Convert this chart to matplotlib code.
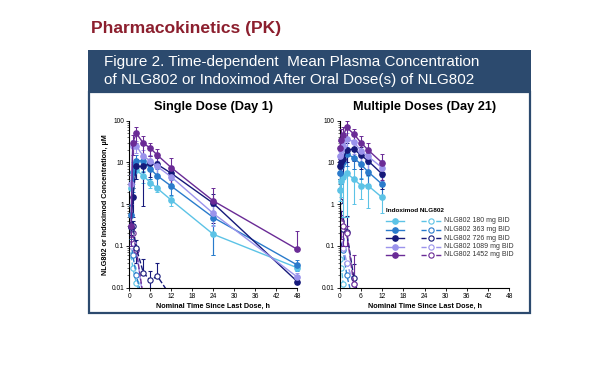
import numpy as np
import matplotlib
matplotlib.use("Agg")
import matplotlib.pyplot as plt
from matplotlib.lines import Line2D
from matplotlib.patches import Rectangle
from matplotlib.ticker import LogLocator, FixedLocator, NullFormatter

plt.rcParams['font.family'] = ['Liberation Sans', 'DejaVu Sans']

nan = np.nan
doses = ["180", "363", "726", "1089", "1452"]
labels = ["NLG802 180 mg BID", "NLG802 363 mg BID", "NLG802 726 mg BID",
          "NLG802 1089 mg BID", "NLG802 1452 mg BID"]
colors = ["#5cc3e6", "#2a7bcc", "#16197a", "#9b93ec", "#6a2b96"]

# ---- Single dose (Day 1) ----
t_sd = [0.5, 1, 2, 4, 6, 8, 12, 24, 48]
ind_sd_180 = [2.4, 6.0, 6.5, 4.8, 3.3, 2.4, 1.25, 0.19, 0.03]
ind_sd_363 = [0.55, 6.0, 11.0, 11.0, 7.0, 4.8, 2.7, 0.48, 0.035]
ind_sd_726 = [0.28, 1.5, 8.0, 8.0, 9.5, 9.0, 5.5, 1.05, 0.014]
ind_sd_1089 = [3.0, 25.0, 25.0, 14.0, 11.0, 8.0, 4.5, 0.6, 0.018]
ind_sd_1452 = [0.3, 30.0, 50.0, 29.0, 22.0, 15.0, 7.5, 1.2, 0.083]
sd_sd_180 = [1.5, 3.0, 2.5, 1.6, 0.8, 0.4, 0.35, 0.13, 0.0]
sd_sd_363 = [0.4, 4.0, 4.5, 5.0, 3.0, 2.0, 1.0, 0.42, 0.01]
sd_sd_726 = [0.1, 1.0, 4.0, 7.1, 5.0, 4.0, 2.5, 0.7, 0.0]
sd_sd_1089 = [2.0, 10.0, 8.0, 6.0, 4.0, 3.0, 2.0, 0.3, 0.005]
sd_sd_1452 = [0.2, 15.0, 20.0, 14.0, 8.0, 6.0, 5.0, 1.3, 0.14]

t_nsd = [0.5, 1, 2, 4, 6, 8, 12]
nlg_sd_180 = [0.06, 0.03, 0.013, 0.004, nan, nan, nan]
nlg_sd_363 = [0.12, 0.06, 0.02, 0.004, nan, nan, nan]
nlg_sd_726 = [0.25, 0.3, 0.09, 0.023, 0.015, 0.019, 0.006]
nlg_sd_1089 = [0.1, 0.12, 0.08, 0.005, nan, nan, nan]
nlg_sd_1452 = [0.15, 0.2, 0.08, 0.006, nan, nan, nan]
nsd_sd_726 = [0.1, 0.1, 0.05, 0.025, 0.01, 0.02, 0.0]

# ---- Multiple doses (Day 21) ----
t_md = [0, 0.5, 1, 2, 4, 6, 8, 12]
ind_md_180 = [2.2, 3.5, 4.5, 5.5, 4.0, 2.8, 2.8, 1.45]
ind_md_363 = [5.5, 8.0, 10.0, 16.0, 13.0, 9.0, 6.0, 3.0]
ind_md_726 = [8.0, 10.0, 12.0, 20.0, 21.0, 15.0, 11.0, 5.3]
ind_md_1089 = [14.0, 20.0, 25.0, 37.0, 31.0, 19.0, 14.0, 7.5]
ind_md_1452 = [22.0, 35.0, 45.0, 69.0, 48.0, 30.0, 20.0, 9.8]
sd_md_180 = [1.0, 2.0, 4.0, 5.0, 3.0, 1.5, 2.0, 0.85]
sd_md_363 = [3.0, 5.0, 6.0, 8.0, 6.0, 5.0, 3.0, 1.5]
sd_md_726 = [4.0, 6.0, 8.0, 10.0, 10.0, 8.0, 6.0, 3.0]
sd_md_1089 = [8.0, 10.0, 12.0, 15.0, 15.0, 10.0, 8.0, 4.0]
sd_md_1452 = [10.0, 30.0, 25.0, 30.0, 15.0, 12.0, 10.0, 6.0]

nlg_md_180 = [0.05, 0.03, 0.012, 0.005, nan, nan, nan, nan]
nlg_md_363 = [0.3, 0.15, 0.08, 0.02, 0.004, nan, nan, nan]
nlg_md_726 = [1.2, 0.4, 0.25, 0.21, 0.017, 0.004, nan, nan]
nlg_md_1089 = [0.3, 0.15, 0.09, 0.04, 0.012, 0.004, nan, nan]
nlg_md_1452 = [0.4, 0.35, 0.3, 0.2, 0.012, 0.005, nan, nan]
nsd_md_726 = [0.8, 0.3, 0.25, 0.3, 0.02, 0.0, 0.0, 0.0]
nsd_md_1452 = [0.3, 0.2, 0.2, 0.1, 0.05, 0.0, 0.0, 0.0]

xticks = [0, 6, 12, 18, 24, 30, 36, 42, 48]
yticks = [0.01, 0.1, 1, 10, 100]
ytick_labels = ["0.01", "0.1", "1", "10", "100"]

fig = plt.figure(figsize=(6.0, 3.83), dpi=100)
W, H = 600, 383

def fx(px): return px / W
def fy(py): return 1 - py / H

# Title
fig.text(fx(91), fy(29), "Pharmacokinetics (PK)", color="#8c1f2e", fontsize=12.6,
         fontweight="bold", va="center", ha="left")
# Header box
navy = "#2c4a6e"
fig.add_artist(Rectangle((fx(88), fy(92)), fx(531) - fx(88), fy(50) - fy(92),
                         transform=fig.transFigure, facecolor=navy, edgecolor=navy, lw=0,
                         zorder=-10))
fig.add_artist(Rectangle((fx(89), fy(313)), fx(530) - fx(89), fy(92) - fy(313),
                         transform=fig.transFigure, facecolor="white", edgecolor=navy, lw=1.6,
                         zorder=-10))
fig.text(fx(104), fy(62), "Figure 2. Time-dependent  Mean Plasma Concentration",
         color="white", fontsize=11.0, va="center", ha="left")
fig.text(fx(104), fy(80), "of NLG802 or Indoximod After Oral Dose(s) of NLG802",
         color="white", fontsize=11.0, va="center", ha="left")

def style_axes(ax):
    ax.set_facecolor("none")
    ax.set_yscale("log")
    ax.set_ylim(0.01, 100)
    ax.set_xlim(0, 48)
    ax.set_xticks(xticks)
    ax.set_xticklabels([str(v) for v in xticks])
    ax.yaxis.set_major_locator(FixedLocator(yticks))
    ax.set_yticklabels(ytick_labels)
    ax.yaxis.set_minor_locator(LogLocator(base=10, subs=np.arange(2, 10)))
    ax.yaxis.set_minor_formatter(NullFormatter())
    for s in ["top", "right"]:
        ax.spines[s].set_visible(False)
    for s in ["left", "bottom"]:
        ax.spines[s].set_linewidth(0.8)
    ax.tick_params(axis="both", which="major", labelsize=4.8, length=2.5, width=0.6, pad=1.2)
    ax.tick_params(axis="y", which="minor", length=1.3, width=0.4)
    ax.set_xlabel("Nominal Time Since Last Dose, h", fontsize=5.2, fontweight="bold", labelpad=2)

MS = 3.8

def plot_solid(ax, t, y, sd, c):
    y = np.array(y); sd = np.array(sd)
    lower = np.where(y - sd > 0, sd, 0.0)
    ax.errorbar(t, y, yerr=[lower, sd], color=c, lw=1.0, marker="o", ms=MS,
                mfc=c, mec=c, elinewidth=0.8, capsize=1.5, capthick=0.7, zorder=3,
                clip_on=False)

def plot_dashed(ax, t, y, c, sd=None):
    y = np.array(y)
    if sd is not None:
        sd = np.array(sd)
        lower = np.where(y - sd > 0, sd, 0.0)
        ax.errorbar(t, y, yerr=[lower, sd], color=c, lw=1.0, ls="--", marker="o", ms=MS,
                    mfc="white", mec=c, mew=0.8, elinewidth=0.8, capsize=1.5, capthick=0.7, zorder=2)
    else:
        ax.plot(t, y, color=c, lw=1.0, ls="--", marker="o", ms=MS, mfc="white",
                mec=c, mew=0.8, zorder=2)

# Left axes
ax1 = fig.add_axes([fx(129.3), fy(287.7), (297.3 - 129.3) / W, (287.7 - 120.7) / H])
style_axes(ax1)
ax1.set_ylabel("NLG802 or Indoximod Concentration, µM", fontsize=5.2, fontweight="bold", labelpad=2)
ax1.set_title("Single Dose (Day 1)", fontsize=9.2, fontweight="bold", pad=8)

ind_sd = [ind_sd_180, ind_sd_363, ind_sd_726, ind_sd_1089, ind_sd_1452]
sd_sd = [sd_sd_180, sd_sd_363, sd_sd_726, sd_sd_1089, sd_sd_1452]
nlg_sd = [nlg_sd_180, nlg_sd_363, nlg_sd_726, nlg_sd_1089, nlg_sd_1452]
for i, c in enumerate(colors):
    plot_dashed(ax1, t_nsd, nlg_sd[i], c, nsd_sd_726 if i == 2 else None)
for i, c in enumerate(colors):
    plot_solid(ax1, t_sd, ind_sd[i], sd_sd[i], c)

# Right axes
ax2 = fig.add_axes([fx(339.7), fy(287.7), (509.3 - 339.7) / W, (287.7 - 120.7) / H])
style_axes(ax2)
ax2.set_title("Multiple Doses (Day 21)", fontsize=9.2, fontweight="bold", pad=8)

ind_md = [ind_md_180, ind_md_363, ind_md_726, ind_md_1089, ind_md_1452]
sd_md = [sd_md_180, sd_md_363, sd_md_726, sd_md_1089, sd_md_1452]
nlg_md = [nlg_md_180, nlg_md_363, nlg_md_726, nlg_md_1089, nlg_md_1452]
nsd_md = [None, None, nsd_md_726, None, nsd_md_1452]
for i, c in enumerate(colors):
    plot_dashed(ax2, t_md, nlg_md[i], c, nsd_md[i])
for i, c in enumerate(colors):
    plot_solid(ax2, t_md, ind_md[i], sd_md[i], c)

# Manual legend
fig.text(fx(386), fy(210), "Indoximod NLG802", fontsize=4.6, fontweight="bold",
         va="center", ha="left")
rows = [221, 229.5, 238, 246.5, 255]
for i, c in enumerate(colors):
    yy = fy(rows[i])
    fig.add_artist(Line2D([fx(386), fx(404)], [yy, yy], transform=fig.transFigure,
                          color=c, lw=1.0))
    fig.add_artist(Line2D([fx(395)], [yy], transform=fig.transFigure, color=c,
                          marker="o", ms=MS, mfc=c, mec=c, ls="none"))
    fig.add_artist(Line2D([fx(421), fx(441)], [yy, yy], transform=fig.transFigure,
                          color=c, lw=1.0, ls="--"))
    fig.add_artist(Line2D([fx(431)], [yy], transform=fig.transFigure, color=c,
                          marker="o", ms=MS, mfc="white", mec=c, mew=0.8, ls="none"))
    fig.text(fx(444), yy, labels[i], fontsize=5.0, color="#333333", va="center", ha="left")

fig.savefig("out.png", dpi=100)
